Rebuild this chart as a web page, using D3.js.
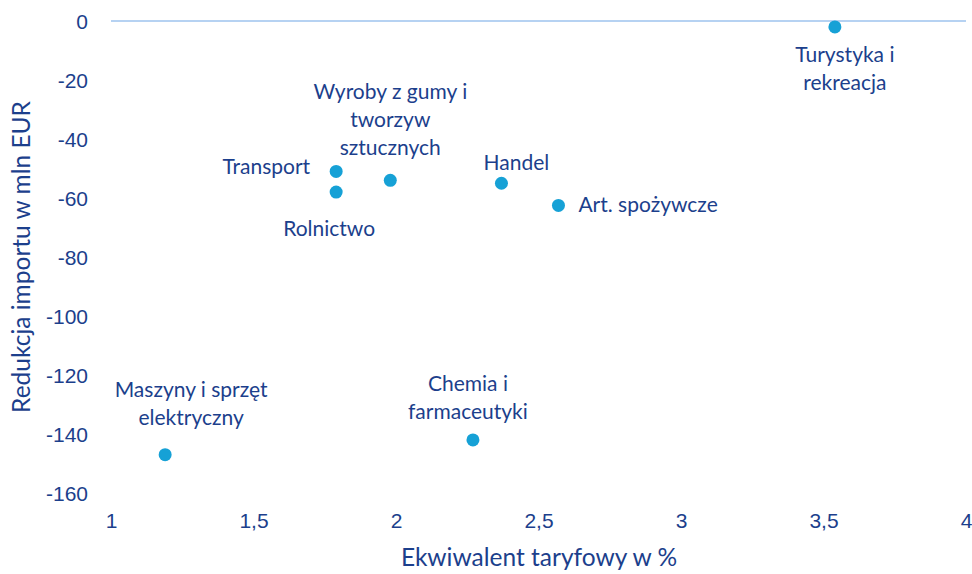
<!DOCTYPE html>
<html>
<head>
<meta charset="utf-8">
<script src="https://cdn.jsdelivr.net/npm/d3@7.9.0/dist/d3.min.js"></script>
<style>
  body { margin: 0; background: #fff; }
  svg { display: block; font-family: Lato, "Open Sans", sans-serif; }
</style>
</head>
<body>
<svg id="chart" width="972" height="574"></svg>
<script>
// sectors, tariff equivalent (%) and import reduction (mln EUR)
const sectors = [
  ['Turystyka i', 'rekreacja'],
  ['Transport'],
  ['Rolnictwo'],
  ['Wyroby z gumy i', 'tworzyw', 'sztucznych'],
  ['Handel'],
  ['Art. spożywcze'],
  ['Maszyny i sprzęt', 'elektryczny'],
  ['Chemia i', 'farmaceutyki']
];
const tariff = [3.54, 1.79, 1.79, 1.98, 2.37, 2.57, 1.19, 2.27];
const reduction = [-2, -51, -58, -54, -55, -62.5, -147, -142];

const xTicks = [1, 1.5, 2, 2.5, 3, 3.5, 4];
const yTicks = [0, -20, -40, -60, -80, -100, -120, -140, -160];

// label placement per point: [dx, dy of first line, anchor]
const labelPos = [
  [10, 28, 'middle'],
  [-26, -5, 'end'],
  [-7, 37, 'middle'],
  [0, -89, 'middle'],
  [15, -21, 'middle'],
  [20, -1, 'start'],
  [26, -65, 'middle'],
  [-5, -56, 'middle']
];

const width = 972, height = 574;
const margin = { top: 21, right: 6, bottom: 81, left: 111 };
const navy = '#1c3f8c';
const labelSize = '21px';

const svg = d3.select('#chart');

const xScale = d3.scaleLinear().domain([1, 4]).range([margin.left, width - margin.right]);
const yScale = d3.scaleLinear().domain([-160, 0]).range([height - margin.bottom, margin.top]);

// zero line
svg.append('line')
  .attr('x1', xScale(1)).attr('x2', xScale(4))
  .attr('y1', yScale(0)).attr('y2', yScale(0))
  .attr('stroke', '#9ec3ee').attr('stroke-width', 1.5);

const yAxis = d3.axisLeft(yScale).tickValues(yTicks).tickSize(0).tickPadding(0)
  .tickFormat(d => String(d));
const yg = svg.append('g').attr('transform', `translate(${margin.left - 23},0)`).call(yAxis);
yg.select('.domain').remove();
yg.selectAll('text').attr('fill', navy).style('font-size', labelSize).attr('dy', '0.35em');

const xAxis = d3.axisBottom(xScale).tickValues(xTicks).tickSize(0).tickPadding(0)
  .tickFormat(d => String(d).replace('.', ','));
const xg = svg.append('g').attr('transform', `translate(0,${height - margin.bottom + 20})`).call(xAxis);
xg.select('.domain').remove();
xg.selectAll('text').attr('fill', navy).style('font-size', labelSize).attr('dy', '0.7em');

// axis titles
svg.append('text')
  .attr('transform', `translate(30,${(margin.top + height - margin.bottom) / 2}) rotate(-90)`)
  .attr('text-anchor', 'middle')
  .attr('fill', navy)
  .style('font-size', '24.5px')
  .text('Redukcja importu w mln EUR');

svg.append('text')
  .attr('x', 539).attr('y', 566)
  .attr('text-anchor', 'middle')
  .attr('fill', navy)
  .style('font-size', '24.5px')
  .text('Ekwiwalent taryfowy w %');

// points
const points = d3.range(tariff.length).map(i => ({
  name: sectors[i], x: tariff[i], y: reduction[i], pos: labelPos[i]
}));

svg.append('g').selectAll('circle')
  .data(points)
  .join('circle')
  .attr('cx', d => xScale(d.x))
  .attr('cy', d => yScale(d.y))
  .attr('r', 6.5)
  .attr('fill', '#16a1d6');

const labels = svg.append('g').selectAll('text')
  .data(points)
  .join('text')
  .attr('x', d => xScale(d.x) + d.pos[0])
  .attr('y', d => yScale(d.y) + d.pos[1])
  .attr('text-anchor', d => d.pos[2])
  .attr('fill', navy)
  .style('font-size', labelSize);

labels.each(function (d) {
  const t = d3.select(this);
  d.name.forEach((line, j) => {
    t.append('tspan')
      .attr('x', xScale(d.x) + d.pos[0])
      .attr('dy', j === 0 ? '0.35em' : '28px')
      .text(line);
  });
});
</script>
</body>
</html>
